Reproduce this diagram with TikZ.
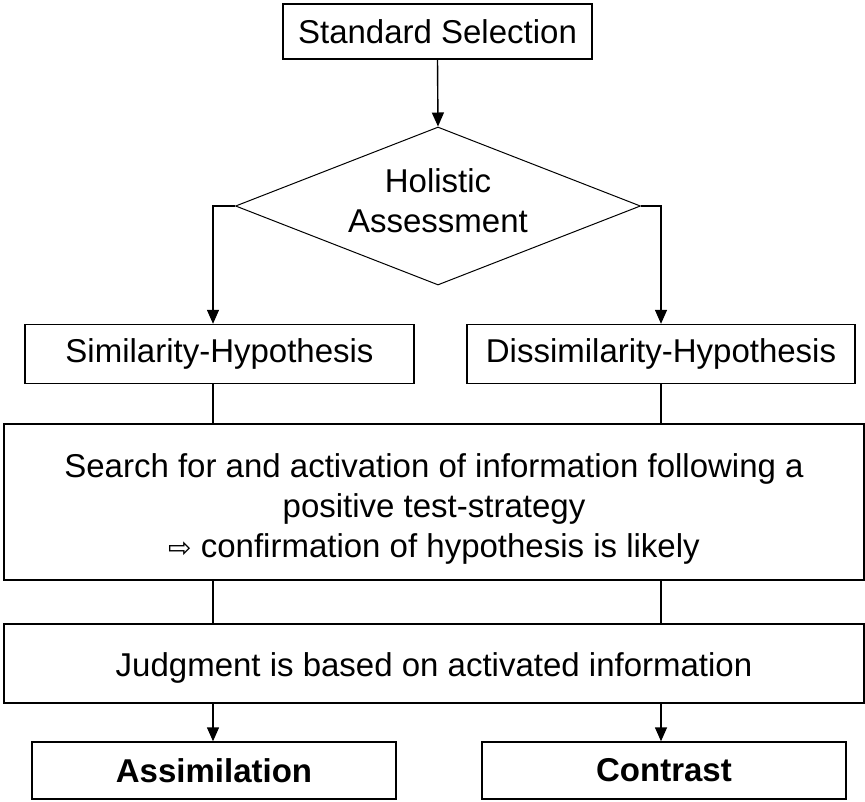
\documentclass[tikz,border=0pt]{standalone}
\usepackage{fontspec}
\setmainfont{Liberation Sans}
\newfontfamily\symfont{DejaVu Sans}
\usetikzlibrary{shapes.geometric,arrows.meta}
\begin{document}
\begin{tikzpicture}[x=1pt,y=-1pt,
  txt/.style={font=\fontsize{33}{40}\selectfont},
  box/.style={draw,line width=1.4pt,inner sep=0pt,txt},
  bbox/.style={box,font=\fontsize{33}{40}\selectfont\bfseries},
  arr/.style={line width=1.4pt,-{Triangle[width=12pt,length=14pt]}},
  ln/.style={line width=1.4pt}]
\useasboundingbox (0,0) rectangle (865,801);
\coordinate (L) at (213,0);
\coordinate (R) at (661,0);

\node[box,minimum width=309pt,minimum height=55pt] (std) at (437.5,31.5) {Standard Selection};
\node[draw,line width=1pt,shape=diamond,aspect=2.56,minimum width=405pt,minimum height=158pt,inner sep=0pt] (dia) at (438,206) {};
\node[txt,align=center,inner sep=0pt] (diat) at (438,201) {Holistic\\Assessment};
\node[box,minimum width=389pt,minimum height=59pt] (sim) at (219.5,354) {Similarity-Hypothesis};
\node[box,minimum width=388pt,minimum height=59pt] (dis) at (661,354) {Dissimilarity-Hypothesis};
\node[box,minimum width=860pt,minimum height=156pt] (srch) at (434,502) {};
\node[txt,align=center,inner sep=0pt] (srcht) at (434,509)
  {Search for and activation of information following a\\positive test-strategy\\{\symfont\fontsize{28}{40}\selectfont ⇨} confirmation of hypothesis is likely};
\node[box,minimum width=860pt,minimum height=79pt] (jdg) at (434,663.5) {};
\node[txt,inner sep=0pt] (jdgt) at (434,668) {Judgment is based on activated information};
\node[bbox,minimum width=364pt,minimum height=57pt] (asm) at (214,770.5) {Assimilation};
\node[bbox,minimum width=364pt,minimum height=57pt] (con) at (664,770.5) {Contrast};

\draw[arr] (std.south) -- (dia.north);
\draw[arr] (dia.west) -| (L |- sim.north);
\draw[arr] (dia.east) -| (R |- dis.north);
\draw[ln] (L |- sim.south) -- (L |- srch.north);
\draw[ln] (R |- dis.south) -- (R |- srch.north);
\draw[ln] (L |- srch.south) -- (L |- jdg.north);
\draw[ln] (R |- srch.south) -- (R |- jdg.north);
\draw[arr] (L |- jdg.south) -- (L |- asm.north);
\draw[arr] (R |- jdg.south) -- (R |- con.north);
\end{tikzpicture}
\end{document}
